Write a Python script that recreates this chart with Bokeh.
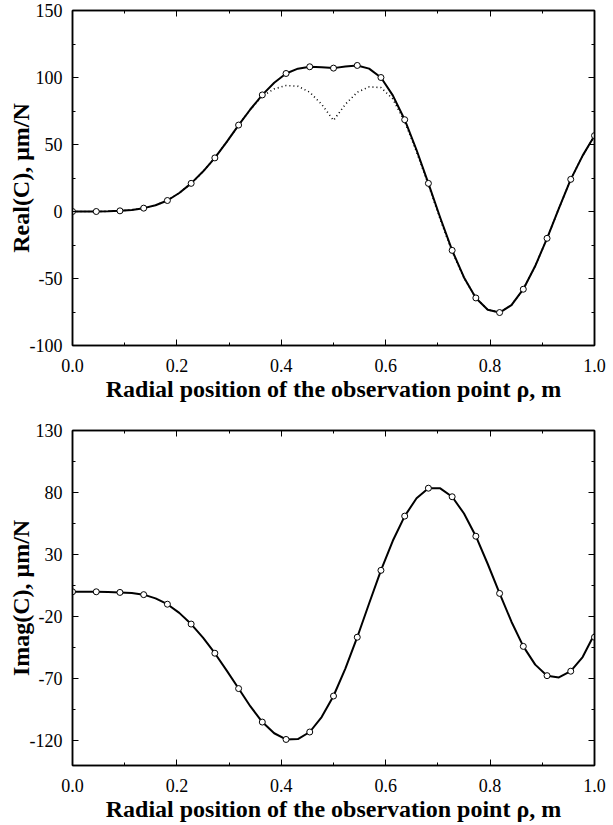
from bokeh.plotting import figure
from bokeh.layouts import column
from bokeh.models import Range1d, FixedTicker, LinearAxis, CustomJSTickFormatter
from bokeh.embed import file_html
from bokeh.resources import INLINE

# ---- data ----
# marker positions (23 points, shared by both panels)
x_pts = [0.0, 0.0455, 0.0909, 0.1364, 0.1818, 0.2273, 0.2727, 0.3182, 0.3636, 0.4091,
         0.4545, 0.5, 0.5455, 0.5909, 0.6364, 0.6818, 0.7273, 0.7727, 0.8182, 0.8636,
         0.9091, 0.9545, 1.0]
real_pts = [0.0, 0.0, 0.5, 2.5, 8.2, 21, 40, 64.5, 87, 103, 108, 107, 109, 100, 68.5,
            21, -29, -64.5, -75.4, -58, -20, 24, 56.6]
imag_pts = [0.0, 0.0, -0.5, -2.3, -10, -26, -49.5, -78, -105, -119, -113, -84, -36.6,
            17.3, 61, 83.5, 76.6, 44.8, -1.3, -44, -67.6, -64, -36.6]

# continuous curves at the markers and half-way between them
x_curve = [0.0, 0.0227, 0.0455, 0.0682, 0.0909, 0.1136, 0.1364, 0.1591, 0.1818, 0.2045,
           0.2273, 0.25, 0.2727, 0.2955, 0.3182, 0.3409, 0.3636, 0.3864, 0.4091, 0.4318,
           0.4545, 0.4773, 0.5, 0.5227, 0.5455, 0.5682, 0.5909, 0.6136, 0.6364, 0.6591,
           0.6818, 0.7045, 0.7273, 0.75, 0.7727, 0.7955, 0.8182, 0.8409, 0.8636, 0.8864,
           0.9091, 0.9318, 0.9545, 0.9773, 1.0]
real_curve = [0.0, 0.0, 0.0, 0.13, 0.5, 1.2, 2.5, 4.7, 8.2, 13.8,
              21, 29.8, 40, 52, 64.5, 76.3, 87, 96.1, 103, 106.6,
              108, 107.7, 107, 108.2, 109, 106.6, 100, 86.7, 68.5, 45.9,
              21, -4.7, -29, -49.2, -64.5, -73.3, -75.4, -69.8, -58, -40.7,
              -20, 2.3, 24, 41.7, 56.6]
real_dotted = [0.0, 0.0, 0.0, 0.13, 0.5, 1.2, 2.5, 4.7, 8.2, 13.8,
               21, 29.8, 40, 52, 64.5, 76.3, 86, 91.5, 94, 93.5,
               89, 80, 68, 80, 89, 93, 92.5, 84, 67, 44.5,
               20, -6, -30, -49.5, -64.5, -73.3, -75.4, -69.8, -58, -40.7,
               -20, 2.3, 24, 41.7, 56.6]
imag_curve = [0.0, 0.0, 0.0, -0.15, -0.5, -0.95, -2.3, -5.3, -10, -17,
              -26, -37, -49.5, -63.5, -78, -92.4, -105, -114, -119, -118.7,
              -113, -101, -84, -61.9, -36.6, -9.4, 17.3, 41.1, 61, 75.4,
              83.5, 83.4, 76.6, 63.1, 44.8, 22.4, -1.3, -24.1, -44, -58.7,
              -67.6, -69, -64, -52.6, -34]

x_ticks = [0.0, 0.2, 0.4, 0.6, 0.8, 1.0]
x_minor = [0.1, 0.3, 0.5, 0.7, 0.9]
top_ticks = [-100, -50, 0, 50, 100, 150]
top_minor = [-75, -25, 25, 75, 125]
bot_ticks = [-120, -70, -20, 30, 80, 130]
bot_minor = [-95, -45, 5, 55, 105]

x_label = "Radial position of the observation point ρ, m"
top_ylabel = "Real(C), μm/N"
bot_ylabel = "Imag(C), μm/N"

SERIF = "Liberation Serif"


def style_axis(ax, ticks, minor, fmt):
    ax.ticker = FixedTicker(ticks=ticks, minor_ticks=minor)
    ax.formatter = CustomJSTickFormatter(code=fmt)
    ax.major_tick_in = 6
    ax.major_tick_out = 0
    ax.minor_tick_in = 3
    ax.minor_tick_out = 0
    ax.axis_line_width = 1.5
    ax.axis_line_color = "black"
    ax.major_tick_line_color = "black"
    ax.minor_tick_line_color = "black"
    ax.major_label_text_font = SERIF
    ax.major_label_text_font_size = "18px"
    ax.major_label_text_color = "black"
    ax.axis_label_text_font = SERIF
    ax.axis_label_text_font_style = "bold"
    ax.axis_label_text_font_size = "24px"
    ax.axis_label_text_color = "black"


def make_panel(ys_pts, ys_curve, yrange, yticks, yminor, ylabel, top_border,
               bottom_border, dotted=None):
    p = figure(frame_width=522, frame_height=335, output_backend="svg",
               toolbar_location=None, x_axis_location=None, y_axis_location=None,
               min_border_left=72, min_border_right=19,
               min_border_top=top_border, min_border_bottom=bottom_border)
    p.x_range = Range1d(0, 1)
    p.y_range = Range1d(*yrange)
    p.xgrid.visible = False
    p.ygrid.visible = False
    p.outline_line_color = "black"
    p.outline_line_width = 1.5

    xb = LinearAxis(axis_label=x_label)
    style_axis(xb, x_ticks, x_minor, "return tick.toFixed(1);")
    xb.major_label_standoff = 13
    xb.axis_label_standoff = 1
    p.add_layout(xb, "below")

    yl = LinearAxis(axis_label=ylabel)
    style_axis(yl, yticks, yminor, "return tick.toFixed(0);")
    yl.major_label_standoff = 10
    yl.axis_label_standoff = -7
    p.add_layout(yl, "left")

    xt = LinearAxis()
    style_axis(xt, x_ticks, x_minor, "return '';")
    xt.major_label_text_font_size = "1px"
    p.add_layout(xt, "above")

    yr = LinearAxis()
    style_axis(yr, yticks, yminor, "return '';")
    yr.major_label_text_font_size = "1px"
    p.add_layout(yr, "right")

    if dotted is not None:
        p.line(x_curve, dotted, line_color="black", line_width=1.6, line_dash="1 3")
    p.line(x_curve, ys_curve, line_color="black", line_width=2, line_join="round")
    p.scatter(x_pts, ys_pts, size=6, fill_color="white", line_color="black", line_width=1)
    return p


p1 = make_panel(real_pts, real_curve, (-100, 150), top_ticks, top_minor, top_ylabel,
                10, 60, dotted=real_dotted)
p2 = make_panel(imag_pts, imag_curve, (-140, 130), bot_ticks, bot_minor, bot_ylabel,
                25, 60)

layout = column(p1, p2, spacing=0)
open("out.html", "w").write(file_html(layout, INLINE))
